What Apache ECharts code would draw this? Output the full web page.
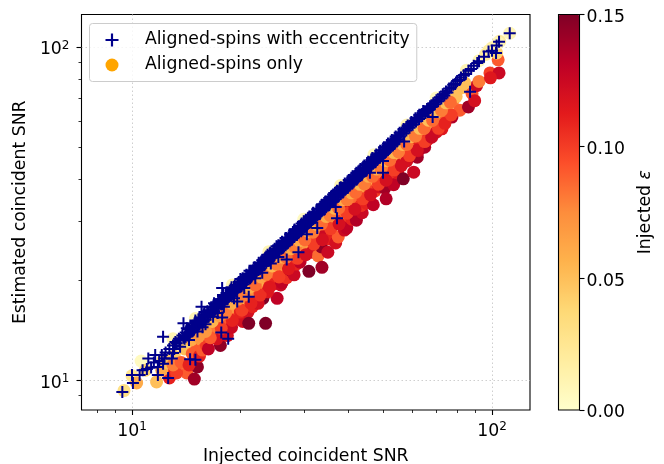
<!DOCTYPE html>
<html><head><meta charset="utf-8">
<script src="https://cdn.jsdelivr.net/npm/echarts@6/dist/echarts.min.js"></script>
<style>html,body{margin:0;padding:0;background:#fff}#c{width:664px;height:464px}</style></head>
<body><div id="c"></div>
<script>
const majorTicks = [10, 100];
const minorTicksX = [8, 9, 20, 30, 40, 50, 60, 70, 80, 90];
const minorTicksY = [9, 20, 30, 40, 50, 60, 70, 80, 90];
const paletteYlOrRd = ['#ffffcc','#ffeda0','#fed976','#feb24c','#fd8d3c','#fc4e2a','#e31a1c','#bd0026','#800026'];
const eccName = 'Aligned-spins with eccentricity';
const spinName = 'Aligned-spins only';

// x, y, injected eccentricity
const spinOnly = [
[9.5,9.3,.03],[10,10.3,.025],[10.3,9.8,.06],[11.7,9.87,.05],[10.6,11.4,.005],[10.9,10.7,.04],[12.2,11.5,.04],
[13,10.9,.11],[12.7,10.15,.11],[14.2,10.5,.09],[14.9,10.07,.14],[15.2,10.95,.145],[15,12.5,.09],[17.6,12.7,.145],[15.6,13.2,.07],
[12.1,10.7,.06],[12.5,11.3,.05],[13.1,11.8,.045],[13.3,10.5,.1],[13,11.1,.08],[13.7,11.3,.09],[14,12.4,.05],[14.4,11.1,.11],[14.7,12,.09],[14.3,13.1,.04],
[15.4,11.8,.11],[15.7,12.3,.09],[15.2,13.8,.06],[16.1,12.7,.1],[16.4,13.6,.07],[15.9,14.4,.05],[16.7,13.8,.11],[16.3,12.4,.13],
[17.2,13.3,.12],[17,14.4,.08],[17.4,15.1,.06],[18.1,14.8,.13],[18.4,13.6,.12],[17.9,15.2,.09],[18.3,16,.07],[18.9,14.4,.125],
[19.3,15.3,.1],[19.6,16,.09],[19,16.6,.07],[20.3,15,.12],[20,16,.11],[20.6,16.8,.085],[20.2,17.4,.06],[21,16,.12],[21.3,17.6,.07],[21.6,16.6,.11],[21.9,18.2,.075],
[23.5,14.8,.15],[21.1,14.8,.15],[23.1,17.6,.15],[25.3,17.6,.13],
[22.4,17,.12],[22.6,18.5,.09],[23,19,.08],[22.9,20,.06],[23.8,18.4,.115],[24.5,21,.07],[24.2,19.6,.09],[25,19.5,.11],[25.5,20.6,.09],[25.9,19.3,.125],[26.1,19.6,.13],
[26.9,20.3,.105],[26.4,22.2,.075],[27.5,21.4,.14],[27.2,23,.06],[28.2,20.7,.125],[28.6,22.3,.11],[28.9,24.4,.065],[29.7,25.1,.115],[29.3,22.6,.13],
[30.2,24,.09],[30.5,25.4,.07],[31,21.2,.15],[31.6,24.2,.12],[32,26.2,.085],[32.9,23.6,.085],[33.6,25.1,.145],[33.7,21.8,.14],[33.2,27.4,.07],
[34.4,27.3,.125],[35,24.2,.125],[35.4,26.5,.11],[35.8,28.6,.08],[36.8,25.8,.12],[37.4,26.9,.09],[37.1,30,.14],[36.4,30.6,.07],
[38.4,30.2,.1],[38.9,28.2,.125],[39.5,28.6,.13],[39.2,31.8,.085],[40.3,33,.115],[40.8,30.4,.11],[41.2,34.4,.07],[42,30.2,.135],[42.3,34,.085],
[43.6,31.8,.125],[43.2,33.4,.105],[44,36.2,.07],[44.8,34,.11],[45.8,36,.115],[46.3,37.4,.09],[46.8,33.6,.13],[47.3,37,.1],[47.8,39.6,.065],
[48.5,38,.12],[49,40.6,.08],[50.4,37.7,.14],[50.8,35,.135],[51.2,40,.115],[51.9,42.8,.075],[52.5,41,.105],[53.3,38.6,.13],[54,44,.085],[54.7,42,.115],[55.5,46.5,.06],
[56.7,40.2,.15],[56,44.4,.12],[57.2,47.4,.08],[58,45.5,.12],[58.8,49,.07],[60.6,42.1,.125],[60,47.6,.115],[61,51,.075],[62,46.7,.14],[63,51.4,.11],[62.5,48.8,.125],
[64,53.6,.07],[65,50,.135],[66,52.5,.115],[66.8,56.5,.07],[68,54.5,.08],[69,58.8,.06],[70,55.5,.12],[71.5,60,.08],[72.6,56.8,.115],[73,63.7,.09],[75,65,.06],
[77.4,61.6,.135],[78,69.2,.08],[79.5,71,.05],[81.4,64.6,.09],[83,75.6,.05],[86,66.1,.14],[88,72.5,.09],[89.5,69,.12],[90.6,76.5,.125],[92,78.8,.08],
[98.7,83.6,.1],[104.6,83.6,.125],[99,80.8,.115],[104,91.5,.09],
[16.5,13.4,.09],[17.7,14.3,.1],[19,15.1,.11],[20.2,16.2,.1],[21.4,17,.11],[22.7,18,.105],[24.1,19,.115],[25.6,20.4,.1],[27.2,21.6,.115],[28.8,23.2,.1],[30.4,23.8,.12],
[32,25.6,.1],[33.8,26.4,.12],[35.6,28.5,.1],[37.6,29.4,.12],[39.6,31.7,.1],[41.6,32.6,.12],[43.8,35,.1],[46,36,.12],[48.4,38.7,.1],[50.8,39.8,.12],[53.4,42.7,.1],
[56,44,.12],[59,47.2,.1],[62,49,.12],[65,52,.1],[68,53.6,.125],[71,57,.1],[74,59,.11],[77,62.5,.1],
[14.6,13.2,.06],[15.3,13.5,.07],[16,14,.07],[16.7,15,.055],[17.5,15.6,.065],[18.2,15.9,.08],[18.9,17,.06],[19.7,17.5,.075],[20.5,18,.08],[21.2,19,.06],[22,19.3,.085],
[22.8,20.4,.065],[23.6,20.8,.08],[24.5,22,.055],[25.2,22.3,.08],[26,23.4,.06],[26.8,23.4,.085],[27.6,24.8,.06],[28.4,25,.08],[29.2,26.2,.06],[30.2,26.4,.085],[31,27.9,.055],
[31.8,27.8,.08],[32.7,29.3,.06],[33.6,29.4,.085],[34.6,31,.06],[35.5,31.2,.08],[36.5,32.8,.055],[37.5,32.8,.085],[38.6,34.8,.06],[39.6,34.8,.08],[40.7,36.5,.06],[41.8,36.6,.085],
[43,38.7,.055],[44.2,38.8,.08],[45.4,40.9,.06],[46.6,40.9,.085],[47.9,43,.06],[49.2,43.2,.08],[50.6,45.6,.055],[52,45.7,.085],[53.4,48.2,.055],[55,48.4,.08],[56.5,51,.055],
[58,51,.085],[59.6,53.8,.055],[61.3,54,.08],[63,57,.05],[64.8,57,.085],[66.6,60.3,.05],[68.4,60.2,.085],[70.4,64,.05],[72.4,64.5,.08],[74.5,68,.05],[76.6,68.2,.085],[80,74,.05],[84,78,.05],
[15,15.3,.01],[19,19.3,.01],[24,24.3,.01],[30,30.4,.005],[38,38.4,.01],[47,47.5,.005],[58,58.3,.01],[70,70.3,.005],[85,85.2,.01],[13,13.3,.01],
[92,91,.01],[98,97.5,.02],[103,96,.04],[105,104,.02],[104,103,.01],[112,110,.01],[96,95,.02],[100,99.5,.015]
];

const eccPoints = [
[9.4,9.2],[10.06,9.8],[10,10.35],[10.5,10.35],[11.8,10.35],[12.6,10.15],[15,11.5],[14.5,11.55],[12.2,13.5],[13.9,14.8],[15.6,16.6],[17.8,18.9],
[19.6,17.2],[21.1,17.8],[18.5,13.3],[17.7,13.9],[17.8,15.4],[15.7,14.4],[13,12.05],[11.1,11.6],[11.6,11.9],[12.1,11.9],[11.8,10.95],
[10.7,10.7],[11,10.8],[11.3,10.9],[11.5,11.3],[11.9,11.4],[12.2,11.2],[12.4,12.1],[12.7,12.4],[12.9,11.6],[12.3,11.6],[13.1,12.4],
[68.4,61.6],[57,52],[49.8,41.9],[45.8,41.9],[49.8,45.5],[37.1,30.6],[36.8,33.1],[32.7,28.6],[30.6,27.4],[29,24.2],[26.9,23],
[112,110],[104.6,103.7],[102.6,95.9],[97.8,97],[86.9,73.4],[103,101],[100,97.5],[95,93.5],
[16,14.7],[18,16.6],[19.2,17.6],[20.5,18.9],[22,20.2],[23,21],[24.3,22.4],[25.5,23.4],[13.6,12.6],[14.4,13.2],[15.2,14],[16.8,15.5],[17.3,15.9],
[14,13.3],[14.4,13.7],[14.8,14.1],[15.3,14.5],[15.8,15],[16.3,15.5],[16.8,16],[17.3,16.4],[17.8,16.9],[18.4,17.5],[18.9,18],[19.5,18.5],[20.1,19.1],[20.7,19.7],
[21.3,20.2],[22,20.9],[22.6,21.5],[23.3,22.1],[24,22.8],[24.7,23.5],[25.5,24.2],[26.2,24.9],[27,25.7],[27.8,26.4],[28.7,27.3],[29.5,28],[30.4,28.9],[31.3,29.7],
[32.3,30.7],[33.2,31.5],[34.2,32.5],[35.3,33.5],[36.3,34.5],[37.4,35.5],[38.5,36.6],[39.7,37.8],[40.9,38.9],[42.1,40],[43.4,41.2],[44.7,42.5],[46,43.8],[47.4,45.1],
[48.8,46.6],[50.3,48.1],[51.8,49.5],[53.4,51.2],[55,52.8],
[14.2,14.3],[15,15.1],[15.9,16],[16.9,17],[17.9,18],[18.9,19],[20,20.1],[21.2,21.3],[22.5,22.5],[23.8,23.8],[25.2,25.2],[26.7,26.7],[28.3,28.3],[30,30],[31.8,31.7],
[33.7,33.6],[35.7,35.6],[37.8,37.7],[40.1,39.9],[42.5,42.3],[45,44.8],
[14.1,13.5],[14.3,13.6],[14.5,13.9],[14.7,14],[14.9,14.3],[15.1,14.4],[15.4,14.7],[15.6,14.9],[15.8,15.1],[16,15.2],[16.2,15.5],[16.5,15.7],[16.7,16],[16.9,16.1],[17.2,16.4],
[17.4,16.6],[17.7,16.9],[17.9,17.1],[18.1,17.3],[18.4,17.5],[18.6,17.8],[18.8,17.9],[19.1,18.3],[19.3,18.4],[19.6,18.7],[19.9,19],[20.1,19.2],[20.4,19.4],[20.7,19.8],[20.9,20],
[21.2,20.2],[21.5,20.5],[21.8,20.8],[22.1,21],[22.4,21.4],[22.7,21.6],[23,22],[23.3,22.2],[23.6,22.5],[23.9,22.8],[24.3,23.2],[24.6,23.4],[24.9,23.8],[25.3,24.1],[25.6,24.4],
[26,24.8],[26.3,25.1],[26.7,25.4],[27.1,25.9],[27.4,26.1],[27.8,26.5],[28.2,26.9],[28.6,27.3],[29,27.6],[29.4,28.1],[29.8,28.4],[30.2,28.8],[30.6,29.2],[31,29.6],[31.4,29.9],
[31.9,30.4],[32.3,30.8],[32.7,31.2],[33.2,31.6],[33.6,32.1],[34.1,32.5],[34.6,33],[35,33.4],[35.5,33.9],[36,34.3],[36.5,34.8],[37,35.3],[37.5,35.8],[38,36.2],[38.6,36.8],
[39.1,37.3],[39.6,37.8],[40.2,38.3],[40.7,38.9],[41.3,39.4],[41.9,40],[42.4,40.5],[43,41],[43.6,41.6],[44.2,42.2],[44.8,42.8],[45.4,43.3],[46,43.9],[46.7,44.6],[47.3,45.2],
[48,45.8],[48.7,46.5],[49.3,47.1],[50,47.8],[50.7,48.4],[51.4,49.1],[52.1,49.8],[52.9,50.5],[53.6,51.2],[54.4,52],
[14.3,14.2],[14.6,14.5],[15,14.95],[15.4,15.3],[15.8,15.75],[16.2,16.1],[16.6,16.55],[17,16.9],[17.4,17.35],[17.9,17.8],[18.3,18.25],[18.8,18.7],[19.3,19.2],[19.8,19.7],[20.3,20.2],
[20.8,20.7],[21.4,21.3],[21.9,21.8],[22.5,22.4],[23,22.9],[23.6,23.5],[24.2,24.1],[24.9,24.8],[25.5,25.4],[26.1,26],[26.8,26.7],[27.5,27.4],[28.2,28.1],[28.9,28.8],[29.6,29.5],
[30.4,30.3],[31.1,31],[31.9,31.8],[32.7,32.6],[33.6,33.5],[34.4,34.3],[35.3,35.2],[36.2,36.1],[37.1,37],[38,37.9],[39,38.9],[40,39.9],[41,40.9],[42,41.9],[43.1,43],[44.2,44.1],
[45.3,45.2],[46.5,46.4],[47.7,47.6],[48.9,48.8],[50.1,50],[51.4,51.3],[52.7,52.6],[54,53.9],[55.4,55.3],[56.8,56.7],[58.3,58.1],[59.7,59.5],[61.3,61.1],[62.8,62.6],[64.4,64.2],
[13,12.7],[13.2,13],[13.3,12.9],[13.5,13.3],[13.6,13.2],[13.8,13.6],[13.9,13.4],[14.1,13.9],[14.2,13.8],[14.4,14.2],[14.5,14],[14.7,14.5],[14.8,14.3],
[15,14.8],[15.1,14.6],[15.3,15.1],[15.4,14.9],[15.6,15.4],[15.7,15.2],[15.9,15.6],[16,15.5],[16.2,16],[16.3,15.8],[16.5,16.2],[16.6,16.1],[16.8,16.6],
[17,16.5],[17.1,16.9],[17.3,16.8],[17.5,17.2],[17.6,17.1],[17.8,17.5],[18,17.5],[18.2,17.9],[18.3,17.8],[18.5,18.2],[18.7,18.1],[18.9,18.6],
[19,18.5],[19.2,18.9],[19.4,18.8],[19.6,19.3],[19.8,19.2],[20,19.7],[20.2,19.6],[20.4,20.1],[20.6,20],[20.8,20.5],[21,20.4],
[21.2,20.9],[21.4,20.8],[21.6,21.3],[21.8,21.2],[22,21.7],[22.2,21.5],[22.4,22.1],[22.6,21.9],[22.8,22.5],[23,22.3],[23.3,23],[23.5,22.8],[23.7,23.4],
[24,23.2],[24.2,23.9],[24.4,23.7],[24.7,24.4],[24.9,24.2],[25.2,24.8],[25.4,24.6],[25.7,25.3],[25.9,25.2],[26.2,25.8],[26.4,25.6],[26.7,26.3],
[27,26.2],[27.2,26.8],[27.5,26.7],[27.8,27.4],[28,27.2],[28.3,27.9],[28.6,27.7],[28.9,28.5],[29.1,28.3],[29.4,29],[29.7,28.8],
[30,29.6],[30.3,29.4],[30.6,30.2],[30.9,30],[31.2,30.8],[31.5,30.6],[31.8,31.4],[32.1,31.1],[32.5,32],[32.8,31.8],[33.1,32.7],[33.5,32.5],[33.8,33.4],
[34.1,33.1],[34.5,34],[34.8,33.8],[35.2,34.7],[35.5,34.4],[35.9,35.4],[36.2,35.1],[36.6,36.1],[37,35.9],[37.3,36.8],[37.7,36.6],[38.1,37.6],[38.5,37.3],
[38.9,38.4],[39.2,38.1],[39.6,39.1],[40,38.8],[40.5,40],[40.9,39.7],[41.3,40.8],[41.7,40.4],[42.1,41.6],[42.6,41.3],[43,42.4],[43.4,42.1],[43.9,43.3],
[44.3,43],[44.8,44.2],[45.2,43.9],[45.7,45.1],[46.2,44.8],[46.6,46],[47.1,45.7],[47.6,47],[48.1,46.6],[48.6,48],[49.1,47.6],[49.6,49],[50.1,48.6],
[50.7,50],[51.2,49.7],[51.7,51],[52.2,50.7],[52.8,52.1],[53.3,51.7],[53.9,53.2],[54.4,52.8],[55,54.3],[55.5,53.9],[56.1,55.4],[56.7,55],[57.2,56.5],
[57.8,56.1],[58.4,57.7],[59,57.2],[59.6,58.8],[60.2,58.4],[60.9,60.1],[61.5,59.7],[62.1,61.3],[62.7,60.8],[63.4,62.6],[64,62.1],[64.7,63.9],[65.3,63.4],
[66,65.1],[66.7,64.7],[67.3,66.4],[68,66],[68.7,67.8],[69.4,67.3],[70.1,69.2],[70.8,68.7],[71.6,70.7],[72.3,70.1],[73,72.1],[73.7,71.5],[74.5,73.5],
[75.2,73],[76,75],[77,75.6],[78,77],[79,77.4],[80,79],[81.2,79.6],[82,81],[83.5,82.2],[84.5,83],[86,84.8],[87.5,85.9],[89,87.9],[91,89.5],[92,90.6]
];

const plusIcon = 'path://M10 0H14V10H24V14H14V24H10V14H0V10H10Z';
const font = 'DejaVu Sans';
const fs = 17.3;
const sup = v => '10{s|' + Math.round(Math.log10(v)) + '}';
const rich = { s: { fontSize: 12, fontFamily: font, color: '#000', padding: [0,0,9,0] } };

function logAxis(extra) {
  return Object.assign({ type: 'log', logBase: 10, gridIndex: 0, splitNumber: 1 }, extra);
}
const xExt = { min: 7.24, max: 127.5 }, yExt = { min: 8.13, max: 125.2 };
const gridDots = { show: true, lineStyle: { color: '#cfcfcf', type: [1.5, 2.5], width: 1 } };

const option = {
  animation: false,
  backgroundColor: '#fff',
  textStyle: { fontFamily: font },
  grid: [
    { left: 81.5, top: 14.5, width: 448.5, height: 395.5, show: true, borderColor: '#000', borderWidth: 1.1, backgroundColor: 'transparent', outerBoundsMode: 'none' },
    { left: 558.5, top: 14.5, width: 21, height: 395.5, show: false, outerBoundsMode: 'none' }
  ],
  xAxis: [
    logAxis(Object.assign({ position: 'bottom', name: 'Injected coincident SNR', nameLocation: 'middle', nameGap: 38,
      nameTextStyle: { fontSize: fs, color: '#000', fontFamily: font },
      axisLine: { show: false },
      axisTick: { show: true, length: 5, lineStyle: { color: '#000', width: 1.1 }, customValues: majorTicks },
      axisLabel: { show: true, margin: 11, fontSize: fs, color: '#000', fontFamily: font, customValues: majorTicks, formatter: sup, rich },
      splitLine: gridDots
    }, xExt)),
    logAxis(Object.assign({ position: 'bottom', axisLine: { show: false },
      axisTick: { show: true, length: 3, lineStyle: { color: '#000', width: 0.8 }, customValues: minorTicksX },
      axisLabel: { show: false }, splitLine: { show: false } }, xExt)),
    { type: 'category', gridIndex: 1, show: false, data: [''] }
  ],
  yAxis: [
    logAxis(Object.assign({ position: 'left', name: 'Estimated coincident SNR', nameLocation: 'middle', nameGap: 48,
      nameTextStyle: { fontSize: fs, color: '#000', fontFamily: font },
      axisLine: { show: false },
      axisTick: { show: true, length: 5, lineStyle: { color: '#000', width: 1.1 }, customValues: majorTicks },
      axisLabel: { show: true, margin: 12, padding: [6, 0, 0, 0], fontSize: fs, color: '#000', fontFamily: font, customValues: majorTicks, formatter: sup, rich },
      splitLine: gridDots
    }, yExt)),
    logAxis(Object.assign({ position: 'left', axisLine: { show: false },
      axisTick: { show: true, length: 3, lineStyle: { color: '#000', width: 0.8 }, customValues: minorTicksY },
      axisLabel: { show: false }, splitLine: { show: false } }, yExt)),
    { type: 'value', gridIndex: 1, position: 'right', min: 0, max: 0.15, interval: 0.05, z: 10,
      name: 'Injected {e|ε}', nameLocation: 'middle', nameGap: 58, nameRotate: 90,
      nameTextStyle: { fontSize: fs, color: '#000', fontFamily: font, rich: { e: { fontSize: fs, fontStyle: 'italic', fontFamily: font, color: '#000' } } },
      axisLine: { show: false },
      axisTick: { show: true, length: 5, lineStyle: { color: '#000', width: 1.1 } },
      axisLabel: { margin: 7, fontSize: fs, color: '#000', fontFamily: font, formatter: v => '{a|' + v.toFixed(2) + '}',
        rich: { a: { fontSize: fs, color: '#000', fontFamily: font, padding: [6, 0, 0, 0] } } },
      splitLine: { show: false } }
  ],
  visualMap: {
    type: 'continuous', min: 0, max: 0.15, seriesIndex: 0, dimension: 2, calculable: false, hoverLink: false,
    left: 558.5, top: 14.5, itemWidth: 21, itemHeight: 395.5, padding: 0, text: null, showLabel: false,
    orient: 'vertical', inRange: { color: paletteYlOrRd }, z: 1
  },
  legend: {
    left: 89.5, top: 23.5, orient: 'vertical', padding: [8, 7, 8, 16], itemGap: 8, itemWidth: 28, itemHeight: 13,
    backgroundColor: 'rgba(255,255,255,0.8)', borderColor: '#cccccc', borderWidth: 1, borderRadius: 3,
    selectedMode: false,
    textStyle: { fontSize: fs, color: '#000', fontFamily: font, padding: [0, 0, 0, 14] },
    data: [
      { name: eccName, icon: plusIcon, itemStyle: { color: '#00008b' } },
      { name: spinName, icon: 'circle', itemStyle: { color: '#ffa500' } }
    ]
  },
  graphic: [{ type: 'rect', z: 100, silent: true, shape: { x: 558.5, y: 14.5, width: 21, height: 395.5 }, style: { fill: 'none', stroke: '#000', lineWidth: 1.1 } }],
  series: [
    { name: spinName, type: 'scatter', xAxisIndex: 0, yAxisIndex: 0, symbol: 'circle', symbolSize: 13, data: spinOnly, z: 2, itemStyle: { opacity: 1 } },
    { name: eccName, type: 'scatter', xAxisIndex: 0, yAxisIndex: 0, symbol: plusIcon, symbolSize: 12, data: eccPoints, z: 3, itemStyle: { color: '#00008b', opacity: 1 } }
  ]
};
const chart = echarts.init(document.getElementById('c'), null, { renderer: 'canvas' });
chart.setOption(option);
</script></body></html>
